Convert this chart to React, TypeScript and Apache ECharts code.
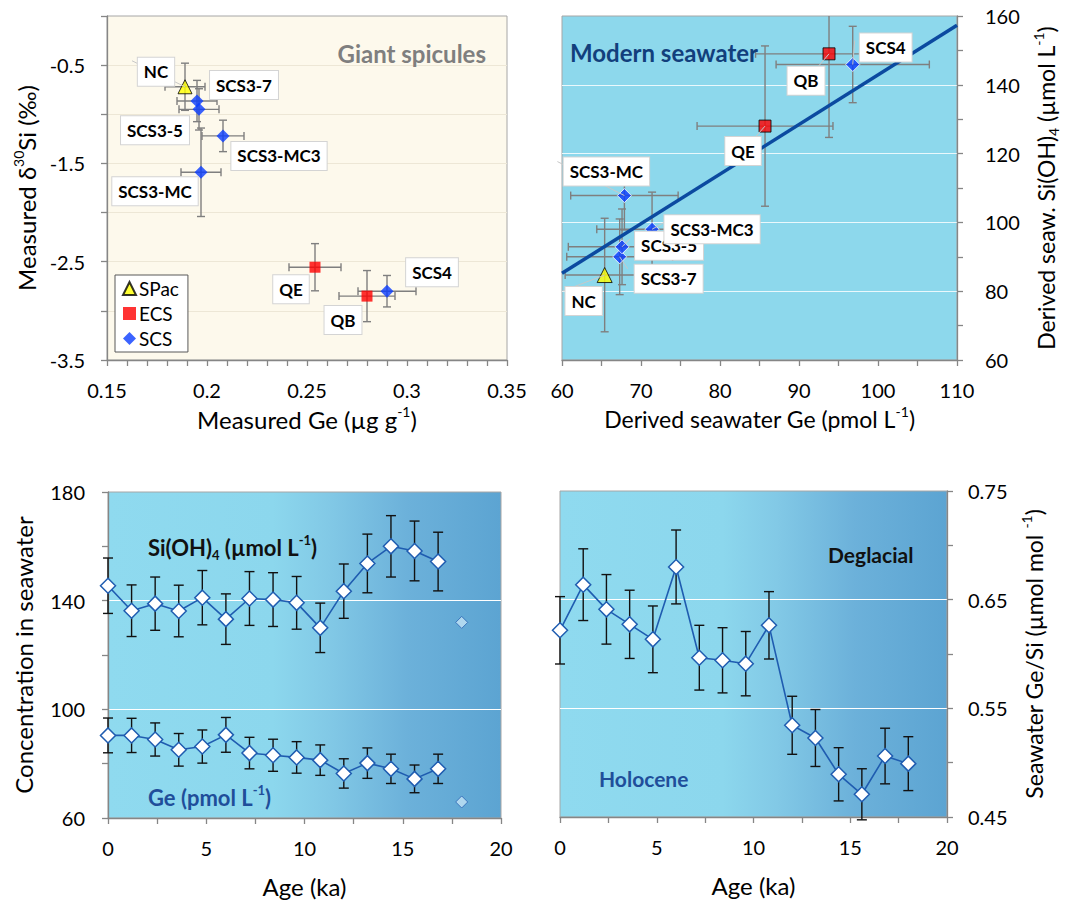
import React, { useEffect, useRef } from 'react';
import * as echarts from 'echarts';

const FONT = 'Lato, "Open Sans", sans-serif';

// ---------- Panels A & B: samples ----------
const SAMPLES = ['NC', 'SCS3-7', 'SCS3-5', 'SCS3-MC3', 'SCS3-MC', 'QE', 'QB', 'SCS4'];
const SAMPLE_REGION = ['SPac', 'SCS', 'SCS', 'SCS', 'SCS', 'ECS', 'ECS', 'SCS'];
const MEASURED_GE = [0.189, 0.195, 0.196, 0.208, 0.197, 0.254, 0.280, 0.290];
const MEASURED_GE_ERR = [0.010, 0.010, 0.010, 0.0105, 0.010, 0.013, 0.014, 0.0145];
const MEASURED_D30SI = [-0.72, -0.865, -0.95, -1.22, -1.59, -2.556, -2.85, -2.80];
const MEASURED_D30SI_ERR = [0.24, 0.21, 0.21, 0.16, 0.45, 0.24, 0.26, 0.16];

const SW_GE = [65.4, 67.3, 67.6, 71.4, 67.9, 85.7, 93.8, 96.8];
const SW_GE_ERR = [5.0, 6.7, 6.8, 7.0, 6.8, 8.6, 9.3, 9.7];
const SW_SI = [84.7, 90.0, 92.9, 98.0, 107.8, 128.0, 149.0, 145.9];
const SW_SI_ERR = [16.5, 11.0, 11.0, 10.8, 10.0, 23.3, 24.3, 11.1];

const MODERN_SW_GE = [60, 110];
const MODERN_SW_SI = [85.2, 157.3];

// ---------- Panels C & D: time series ----------
const AGE = [0, 1.2, 2.4, 3.6, 4.8, 6.0, 7.2, 8.4, 9.6, 10.8, 12.0, 13.2, 14.4, 15.6, 16.8, 18.0];
const SEAWATER_SI = [145.5, 136.3, 138.9, 136.2, 141.1, 133.2, 140.8, 140.4, 139.2, 130.0, 143.5, 153.7, 160.0, 158.3, 154.4, 132.0];
const SEAWATER_SI_ERR = [10.2, 9.5, 9.8, 9.5, 10.0, 9.3, 9.9, 9.9, 9.7, 9.1, 10.0, 10.8, 11.3, 11.0, 10.8];
const SEAWATER_GE = [90.4, 90.4, 88.9, 85.1, 86.3, 90.6, 83.9, 83.1, 82.3, 81.3, 76.4, 80.2, 78.1, 74.4, 78.1, 65.9];
const SEAWATER_GE_ERR = [6.4, 6.3, 6.1, 6.0, 6.1, 6.4, 5.8, 5.9, 5.8, 5.6, 5.4, 5.6, 5.4, 5.1, 5.4];
const GE_SI = [0.6218, 0.6638, 0.6411, 0.6273, 0.6135, 0.6801, 0.5966, 0.5942, 0.5911, 0.6264, 0.5344, 0.5227, 0.4893, 0.4709, 0.5061, 0.4991];
const GE_SI_ERR = [0.031, 0.033, 0.032, 0.0314, 0.0307, 0.034, 0.0298, 0.030, 0.0296, 0.031, 0.0267, 0.0262, 0.0245, 0.0235, 0.0256, 0.0248];

// ---------- Layout (pixel offsets of label boxes from their points) ----------
const LABEL_OFFSET_A: number[][] = [[-29, -15], [47, -16], [-44, 21], [56, 20], [-46, 19], [-24, 22], [-24, 24], [45, -19]];
const LEADER_A: any[] = [[-53, -26], null, null, null, null, null, null, null];
const LABEL_OFFSET_B: number[][] = [[-21, 26], [49, 22], [47, -1], [60, 0], [-18, -24], [-22, 25], [-23, 27], [33, -17]];
const LEADER_B: any[] = [[-42, 16], [8, 12], [8, -8], [14, -8], [-67, -34], true, true, [2, -24]];

const AXIS_GRAY = '#868686';
const BORDER_GRAY = '#a6a6a6';

const richTitle = (size: number) => ({
  n: { fontSize: size, fontFamily: FONT, color: '#000', lineHeight: size + 6 },
  sup: { fontSize: Math.round(size * 0.6), fontFamily: FONT, color: '#000', verticalAlign: 'top', lineHeight: Math.round(size * 0.6) },
  sub: { fontSize: Math.round(size * 0.6), fontFamily: FONT, color: '#000', verticalAlign: 'bottom', lineHeight: Math.round(size * 0.6) },
});

function axisBase(margin: number, titleSize = 24) {
  return {
    axisLine: { show: true, onZero: false, lineStyle: { color: AXIS_GRAY, width: 1.3 } },
    axisTick: { show: true, length: 6, lineStyle: { color: AXIS_GRAY, width: 1.3 } },
    axisLabel: { fontSize: 20, fontFamily: FONT, color: '#000', margin },
    nameLocation: 'middle',
    nameTextStyle: { rich: richTitle(titleSize) },
  };
}

function errorBars(xi: number, yi: number, data: number[][], color: string, cap: number, clip: boolean) {
  return {
    type: 'custom',
    xAxisIndex: xi,
    yAxisIndex: yi,
    silent: true,
    clip,
    z: 2,
    data,
    renderItem: (params: any, api: any) => {
      const x = api.value(0), y = api.value(1), ex = api.value(2), ey = api.value(3);
      const style = { stroke: color, lineWidth: 1.4 };
      const children: any[] = [];
      if (ex > 0) {
        const a = api.coord([x - ex, y]);
        const b = api.coord([x + ex, y]);
        children.push({ type: 'line', shape: { x1: a[0], y1: a[1], x2: b[0], y2: b[1] }, style });
        children.push({ type: 'line', shape: { x1: a[0], y1: a[1] - cap, x2: a[0], y2: a[1] + cap }, style });
        children.push({ type: 'line', shape: { x1: b[0], y1: b[1] - cap, x2: b[0], y2: b[1] + cap }, style });
      }
      if (ey > 0) {
        const a = api.coord([x, y - ey]);
        const b = api.coord([x, y + ey]);
        children.push({ type: 'line', shape: { x1: a[0], y1: a[1], x2: b[0], y2: b[1] }, style });
        children.push({ type: 'line', shape: { x1: a[0] - cap, y1: a[1], x2: a[0] + cap, y2: a[1] }, style });
        children.push({ type: 'line', shape: { x1: b[0] - cap, y1: b[1], x2: b[0] + cap, y2: b[1] }, style });
      }
      return { type: 'group', children };
    },
  };
}

function labelBoxes(xi: number, yi: number, xs: number[], ys: number[], offsets: number[][], leaders: any[]) {
  return {
    type: 'custom',
    xAxisIndex: xi,
    yAxisIndex: yi,
    silent: true,
    clip: false,
    z: 6,
    data: xs.map((x, i) => [x, ys[i]]),
    renderItem: (params: any, api: any) => {
      const i = params.dataIndex;
      const p = api.coord([api.value(0), api.value(1)]);
      const cx = p[0] + offsets[i][0];
      const cy = p[1] + offsets[i][1];
      const children: any[] = [];
      const lead = leaders[i];
      if (lead) {
        const end = lead === true ? [cx, cy] : [p[0] + lead[0], p[1] + lead[1]];
        children.push({ type: 'line', shape: { x1: p[0], y1: p[1], x2: end[0], y2: end[1] }, style: { stroke: '#c8c8c8', lineWidth: 1 } });
      }
      children.push({
        type: 'text',
        x: cx,
        y: cy,
        style: {
          text: SAMPLES[i],
          fill: '#000',
          fontSize: 17,
          fontWeight: 'bold',
          fontFamily: FONT,
          align: 'center',
          verticalAlign: 'middle',
          backgroundColor: '#fff',
          borderColor: '#d4d4d4',
          borderWidth: 1,
          padding: [6, 6, 5, 6],
        },
      });
      return { type: 'group', children };
    },
  };
}

const idxOf = (region: string) => SAMPLES.map((_, i) => i).filter((i) => SAMPLE_REGION[i] === region);

function buildOption() {
  const timeGradient = () =>
    new echarts.graphic.LinearGradient(0, 0, 1, 0, [
      { offset: 0, color: '#8fdaef' },
      { offset: 0.42, color: '#8cd7ed' },
      { offset: 0.56, color: '#82c9e6' },
      { offset: 0.76, color: '#6cb1da' },
      { offset: 1, color: '#5ca4d2' },
    ]);

  const grids = [
    { left: 107, top: 16, width: 400, height: 344, show: true, backgroundColor: '#fdf9ec', borderColor: BORDER_GRAY, borderWidth: 1 },
    { left: 562, top: 16, width: 395, height: 344, show: true, backgroundColor: '#8dd8ec', borderColor: BORDER_GRAY, borderWidth: 1 },
    { left: 108, top: 492, width: 393, height: 326, show: true, backgroundColor: timeGradient(), borderColor: BORDER_GRAY, borderWidth: 1 },
    { left: 560, top: 491, width: 387, height: 326, show: true, backgroundColor: timeGradient(), borderColor: BORDER_GRAY, borderWidth: 1 },
  ];

  const minor = (n: number) => ({ show: true, splitNumber: n, length: 6, lineStyle: { color: AXIS_GRAY, width: 1.3 } });

  const xAxis = [
    {
      ...axisBase(20), gridIndex: 0, type: 'value', min: 0.15, max: 0.35, interval: 0.05,
      minorTick: minor(5), splitLine: { show: false },
      name: '{n|Measured Ge (µg g}{sup|-1}{n|)}', nameGap: 44,
    },
    {
      ...axisBase(20, 23), gridIndex: 1, type: 'value', min: 60, max: 110, interval: 10,
      minorTick: minor(2), splitLine: { show: false },
      name: '{n|Derived seawater Ge (pmol L}{sup|-1}{n|)}', nameGap: 44,
    },
    {
      ...axisBase(20), gridIndex: 2, type: 'value', min: 0, max: 20, interval: 5,
      minorTick: minor(2), splitLine: { show: false },
      name: '{n|Age (ka)}', nameGap: 53,
    },
    {
      ...axisBase(20), gridIndex: 3, type: 'value', min: 0, max: 20, interval: 5,
      minorTick: minor(2), splitLine: { show: false },
      name: '{n|Age (ka)}', nameGap: 53,
    },
  ];

  const hiddenGridAxis = (gridIndex: number, position: string, max: number, interval: number) => ({
    gridIndex, type: 'value', position, min: 0, max, interval,
    axisLine: { show: false }, axisTick: { show: false }, axisLabel: { show: false },
    splitLine: { show: true, showMinLine: false, showMaxLine: false, lineStyle: { color: '#ffffff', width: 1.2 } },
  });

  const yAxis = [
    {
      ...axisBase(22), gridIndex: 0, type: 'value', min: -3.5, max: 0, interval: 0.5,
      axisLabel: {
        fontSize: 20, fontFamily: FONT, color: '#000', margin: 22,
        formatter: (v: number) => (Math.abs(Math.round(v * 10)) % 10 === 5 ? String(v) : ''),
      },
      splitLine: { show: true, showMinLine: false, showMaxLine: false, lineStyle: { color: '#ede7d6', width: 1 } },
      name: '{n|Measured δ}{sup|30}{n|Si (‰)}', nameGap: 66,
    },
    {
      ...axisBase(28, 23), gridIndex: 1, type: 'value', position: 'right', min: 60, max: 160, interval: 20,
      minorTick: minor(2),
      splitLine: { show: true, showMinLine: false, showMaxLine: false, lineStyle: { color: '#eaf8fc', width: 1.2 } },
      name: '{n|Derived seaw. Si(OH)}{sub|4}{n| (µmol L}{sup|-1}{n|)}', nameGap: 74,
    },
    {
      ...axisBase(23), gridIndex: 2, type: 'value', min: 60, max: 180, interval: 20,
      axisLabel: {
        fontSize: 20, fontFamily: FONT, color: '#000', margin: 23,
        formatter: (v: number) => ((Math.round(v) - 60) % 40 === 0 ? String(v) : ''),
      },
      splitLine: { show: false },
      name: '{n|Concentration in seawater}', nameGap: 70,
    },
    {
      ...axisBase(21, 23), gridIndex: 3, type: 'value', position: 'right', min: 0.45, max: 0.75, interval: 0.05,
      axisLabel: {
        fontSize: 20, fontFamily: FONT, color: '#000', margin: 21,
        formatter: (v: number) => (Math.round(v * 100) % 10 === 5 ? v.toFixed(2) : ''),
      },
      splitLine: { show: false },
      name: '{n|Seawater Ge/Si (µmol mol }{sup|-1}{n|)}', nameGap: 72,
    },
    hiddenGridAxis(2, 'left', 120, 40),
    hiddenGridAxis(3, 'right', 30, 10),
  ];

  const series: any[] = [];

  // Panel A
  series.push(
    errorBars(0, 0, SAMPLES.map((_, i) => [MEASURED_GE[i], MEASURED_D30SI[i], MEASURED_GE_ERR[i], MEASURED_D30SI_ERR[i]]), '#7f7f7f', 4, true)
  );
  const markerA: Record<string, any> = {
    SPac: { symbol: 'triangle', symbolSize: 14, itemStyle: { color: '#ffff00', borderColor: '#000', borderWidth: 1 } },
    ECS: { symbol: 'rect', symbolSize: 11, itemStyle: { color: '#ff0000' } },
    SCS: { symbol: 'diamond', symbolSize: 13, itemStyle: { color: '#0a3cff' } },
  };
  const markerB: Record<string, any> = {
    SPac: { symbol: 'triangle', symbolSize: 15, itemStyle: { color: '#ffff00', borderColor: '#000', borderWidth: 1 } },
    ECS: { symbol: 'rect', symbolSize: 12, itemStyle: { color: '#ff0000', borderColor: '#000', borderWidth: 1 } },
    SCS: { symbol: 'diamond', symbolSize: 14, itemStyle: { color: '#0a3cff', borderColor: '#fff', borderWidth: 1 } },
  };
  ['SPac', 'ECS', 'SCS'].forEach((r) => {
    series.push({
      type: 'scatter', name: r, xAxisIndex: 0, yAxisIndex: 0, z: 4, silent: true,
      ...markerA[r],
      data: idxOf(r).map((i) => [MEASURED_GE[i], MEASURED_D30SI[i]]),
    });
  });
  series.push(labelBoxes(0, 0, MEASURED_GE, MEASURED_D30SI, LABEL_OFFSET_A, LEADER_A));

  // Panel B
  series.push(
    errorBars(1, 1, SAMPLES.map((_, i) => [SW_GE[i], SW_SI[i], SW_GE_ERR[i], SW_SI_ERR[i]]), '#7f7f7f', 4, true)
  );
  series.push({
    type: 'line', name: 'Modern seawater', xAxisIndex: 1, yAxisIndex: 1, z: 3, silent: true,
    symbol: 'none', lineStyle: { color: '#0b4aa0', width: 3.5 },
    data: MODERN_SW_GE.map((g, i) => [g, MODERN_SW_SI[i]]),
  });
  ['SPac', 'ECS', 'SCS'].forEach((r) => {
    series.push({
      type: 'scatter', name: r + ' (derived)', xAxisIndex: 1, yAxisIndex: 1, z: 4, silent: true,
      ...markerB[r],
      data: idxOf(r).map((i) => [SW_GE[i], SW_SI[i]]),
    });
  });
  series.push(labelBoxes(1, 1, SW_GE, SW_SI, LABEL_OFFSET_B, LEADER_B));

  // Panel C
  const nC = SEAWATER_SI_ERR.length;
  const diamondMarker = {
    symbol: 'diamond', symbolSize: 15,
    itemStyle: { color: '#ffffff', borderColor: '#1f5cb0', borderWidth: 1.5 },
    lineStyle: { color: '#1f5cb0', width: 1.6 },
  };
  series.push(errorBars(2, 2, AGE.slice(0, nC).map((a, i) => [a, SEAWATER_SI[i], 0, SEAWATER_SI_ERR[i]]), '#111', 5, false));
  series.push(errorBars(2, 2, AGE.slice(0, nC).map((a, i) => [a, SEAWATER_GE[i], 0, SEAWATER_GE_ERR[i]]), '#111', 5, false));
  series.push({
    type: 'line', name: 'Si(OH)4', xAxisIndex: 2, yAxisIndex: 2, z: 4, silent: true, showAllSymbol: true,
    ...diamondMarker,
    data: AGE.slice(0, nC).map((a, i) => [a, SEAWATER_SI[i]]),
  });
  series.push({
    type: 'line', name: 'Ge', xAxisIndex: 2, yAxisIndex: 2, z: 4, silent: true, showAllSymbol: true,
    ...diamondMarker,
    data: AGE.slice(0, nC).map((a, i) => [a, SEAWATER_GE[i]]),
  });
  series.push({
    type: 'scatter', name: 'LGM', xAxisIndex: 2, yAxisIndex: 2, z: 4, silent: true,
    symbol: 'diamond', symbolSize: 12,
    itemStyle: { color: '#c3e3f5', borderColor: '#2a64b4', borderWidth: 1 },
    data: [
      [AGE[nC], SEAWATER_SI[nC]],
      [AGE[nC], SEAWATER_GE[nC]],
    ],
  });

  // Panel D
  series.push(errorBars(3, 3, AGE.map((a, i) => [a, GE_SI[i], 0, GE_SI_ERR[i]]), '#111', 5, false));
  series.push({
    type: 'line', name: 'Ge/Si', xAxisIndex: 3, yAxisIndex: 3, z: 4, silent: true, showAllSymbol: true,
    ...diamondMarker,
    data: AGE.map((a, i) => [a, GE_SI[i]]),
  });

  const boldText = (x: number, y: number, text: string, color: string, size: number, align = 'left', rich?: any) => ({
    type: 'text', x, y, z: 10, silent: true,
    style: {
      text, fill: color, fontSize: size, fontWeight: 'bold', fontFamily: FONT,
      align, verticalAlign: 'middle', rich,
    },
  });

  const richBold = (color: string, size: number) => ({
    b: { fontSize: size, fontWeight: 'bold', fontFamily: FONT, color, fill: color, lineHeight: size + 6 },
    s: { fontSize: 13, fontWeight: 'bold', fontFamily: FONT, color, fill: color, verticalAlign: 'bottom', lineHeight: 13 },
    u: { fontSize: 13, fontWeight: 'bold', fontFamily: FONT, color, fill: color, verticalAlign: 'top', lineHeight: 13 },
  });

  const graphic = [
    boldText(486, 53, 'Giant spicules', '#7f7f7f', 24, 'right'),
    boldText(570, 52, 'Modern seawater', '#123f7c', 24),
    boldText(148, 547, '{b|Si(OH)}{s|4}{b| (µmol L}{u|-1}{b|)}', '#111', 22, 'left', richBold('#111', 22)),
    boldText(148, 797, '{b|Ge (pmol L}{u|-1}{b|)}', '#1f4e9a', 22, 'left', richBold('#1f4e9a', 22)),
    boldText(828, 554, 'Deglacial', '#111', 21),
    boldText(599, 778, 'Holocene', '#1f4e9a', 21),
  ];

  return {
    animation: false,
    backgroundColor: '#ffffff',
    textStyle: { fontFamily: FONT },
    grid: grids,
    xAxis,
    yAxis,
    legend: {
      show: true,
      selectedMode: false,
      orient: 'vertical',
      left: 115,
      top: 275,
      padding: [4, 9, 4, 7],
      itemGap: 6,
      itemWidth: 13,
      itemHeight: 13,
      borderColor: '#595959',
      borderWidth: 1,
      backgroundColor: '#ffffff',
      textStyle: { fontSize: 19, fontFamily: FONT, color: '#000', padding: [0, 0, 0, -2] },
      data: [
        { name: 'SPac', icon: 'triangle' },
        { name: 'ECS', icon: 'rect' },
        { name: 'SCS', icon: 'diamond' },
      ],
    },
    graphic,
    series,
  };
}

export default function App() {
  const ref = useRef<HTMLDivElement>(null);
  useEffect(() => {
    document.body.style.margin = '0';
    const chart = echarts.init(ref.current as HTMLDivElement, null, { renderer: 'svg' });
    chart.setOption(buildOption() as any);
    return () => chart.dispose();
  }, []);
  return <div ref={ref} style={{ width: 1081, height: 905 }} />;
}
